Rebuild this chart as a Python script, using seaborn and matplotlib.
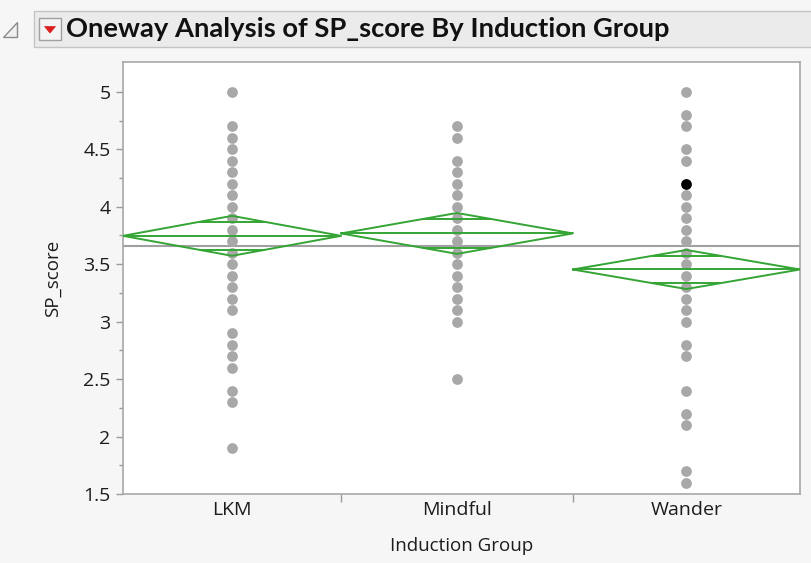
import numpy as np
import pandas as pd
import matplotlib
matplotlib.use("Agg")
import matplotlib.pyplot as plt
from matplotlib.patches import Rectangle, Polygon
from matplotlib.ticker import FixedLocator, NullFormatter
import seaborn as sns

# ---------------- data ----------------
groups = ["LKM", "Mindful", "Wander"]
lkm_scores = [5.0, 4.7, 4.6, 4.5, 4.4, 4.3, 4.2, 4.1, 4.0, 3.9, 3.8, 3.7, 3.6,
              3.5, 3.4, 3.3, 3.2, 3.1, 2.9, 2.8, 2.7, 2.6, 2.4, 2.3, 1.9]
mindful_scores = [4.7, 4.6, 4.4, 4.3, 4.2, 4.1, 4.0, 3.9, 3.8, 3.7, 3.6, 3.5,
                  3.4, 3.3, 3.2, 3.1, 3.0, 2.5]
wander_scores = [5.0, 4.8, 4.7, 4.5, 4.4, 4.2, 4.1, 4.0, 3.9, 3.8, 3.7, 3.6,
                 3.5, 3.4, 3.3, 3.2, 3.1, 3.0, 2.8, 2.7, 2.4, 2.2, 2.1, 1.7, 1.6]
group_n = [48, 51, 50]            # estimated group sizes (set diamond widths)
group_means = [3.747, 3.768, 3.454]
ci_half = [0.174, 0.178, 0.170]
grand_mean = 3.657
highlight = ("Wander", 4.2)
y_ticks = [1.5, 2, 2.5, 3, 3.5, 4, 4.5, 5]
y_tick_labels = ["1.5", "2", "2.5", "3", "3.5", "4", "4.5", "5"]
title = "Oneway Analysis of SP_score By Induction Group"

# ---------------- layout helpers ----------------
W, H = 812, 563
bounds = np.concatenate([[0], np.cumsum(group_n)])
centers = (bounds[:-1] + bounds[1:]) / 2
center_of = dict(zip(groups, centers))

rows = []
for g, vals in zip(groups, [lkm_scores, mindful_scores, wander_scores]):
    for v in vals:
        rows.append({"group": g, "SP_score": v,
                     "hl": (g, v) == highlight})
df = pd.DataFrame(rows)
df["x"] = df["group"].map(center_of)

sns.set_theme(style="white")
font = ["Open Sans", "DejaVu Sans"]
plt.rcParams["font.family"] = font

fig = plt.figure(figsize=(W / 100, H / 100), dpi=100)
fig.patch.set_facecolor("#f6f6f6")

def fx(px):
    return px / W

def fy(py):
    return 1 - py / H

ax_l, ax_r, ax_t, ax_b = 123, 800, 62, 494
ax = fig.add_axes([fx(ax_l), fy(ax_b), fx(ax_r - ax_l), (ax_b - ax_t) / H])
ax.set_facecolor("white")

green = "#34a534"
grey_dot = "#a8a8a8"
txt = "#1c1c1c"

# grand mean line
ax.axhline(grand_mean, color="#a0a0a0", lw=1.5, zorder=1)

# points
sns.scatterplot(data=df[~df["hl"]], x="x", y="SP_score", color=grey_dot,
                s=60, linewidth=0, ax=ax, zorder=2, legend=False)
sns.scatterplot(data=df[df["hl"]], x="x", y="SP_score", color="black",
                s=60, linewidth=0, ax=ax, zorder=4, legend=False)

# means diamonds
for i, g in enumerate(groups):
    l, r, c = bounds[i], bounds[i + 1], centers[i]
    m, h = group_means[i], ci_half[i]
    hw = (r - l) / 2
    ax.plot([l, c, r, c, l], [m, m + h, m, m - h, m], color=green, lw=1.4,
            zorder=3, solid_joinstyle="miter")
    ax.plot([l, r], [m, m], color=green, lw=1.4, zorder=3)
    off = hw * (1 - 1 / np.sqrt(2))
    for s in (1, -1):
        ax.plot([c - off, c + off], [m + s * h / np.sqrt(2)] * 2,
                color=green, lw=1.4, zorder=3)

ax.set_xlim(bounds[0], bounds[-1])
ax.set_ylim(1.5, 5.26)

# y ticks
ax.set_yticks(y_ticks)
ax.set_yticklabels(y_tick_labels)
ax.yaxis.set_minor_locator(FixedLocator([t + 0.25 for t in y_ticks[:-1]]))
ax.tick_params(axis="y", which="major", direction="out", length=5, width=1,
               color="#9a9a9a", labelsize=14, labelcolor=txt, pad=4,
               left=True)
ax.tick_params(axis="y", which="minor", direction="out", length=3, width=1,
               color="#9a9a9a", left=True)

# x ticks: separators as major ticks, labels at centers (minor)
ax.set_xticks(bounds[1:-1])
ax.xaxis.set_major_formatter(NullFormatter())
ax.set_xticks(centers, minor=True)
ax.set_xticklabels(groups, minor=True)
ax.tick_params(axis="x", which="major", direction="out", length=6, width=1,
               color="#9a9a9a", bottom=True)
ax.tick_params(axis="x", which="minor", length=0, labelsize=14,
               labelcolor=txt, pad=5)

for sp in ax.spines.values():
    sp.set_color("#a8a8a8")
    sp.set_linewidth(1.2)

ax.set_xlabel("Induction Group", fontsize=13.5, color=txt, labelpad=13)
ax.set_ylabel("SP_score", fontsize=13.5, color=txt, labelpad=15)

# ---------------- header bar ----------------
bar_top, bar_bot = 11, 47
fig.add_artist(Rectangle((fx(34), fy(bar_bot)), fx(W - 34), (bar_bot - bar_top) / H,
                         transform=fig.transFigure, facecolor="#ebebeb",
                         edgecolor="#c4c4c4", lw=1))
# disclosure triangle
fig.add_artist(Polygon([(fx(17), fy(22)), (fx(17), fy(37)), (fx(3), fy(37))],
                       closed=True, transform=fig.transFigure,
                       facecolor="#f0f0f0", edgecolor="#8a8a8a", lw=1))
# red popup button
fig.add_artist(Rectangle((fx(39), fy(40)), fx(22), 22 / H,
                         transform=fig.transFigure, facecolor="#f4f4f4",
                         edgecolor="#a0a0a0", lw=1))
fig.add_artist(Polygon([(fx(44.5), fy(26.5)), (fx(55.5), fy(26.5)), (fx(50), fy(33))],
                       closed=True, transform=fig.transFigure,
                       facecolor="#d81e1e", edgecolor="#d81e1e", lw=0.5))
t = fig.text(fx(66), fy(29), title, fontsize=16, fontweight="bold",
             color="#111111", va="center", ha="left",
             family=["Lato", "DejaVu Sans"])
fig.canvas.draw()
wpx = t.get_window_extent().width
t.set_fontsize(16 * 607 / wpx)

fig.savefig("out.png", dpi=100, facecolor=fig.get_facecolor())
